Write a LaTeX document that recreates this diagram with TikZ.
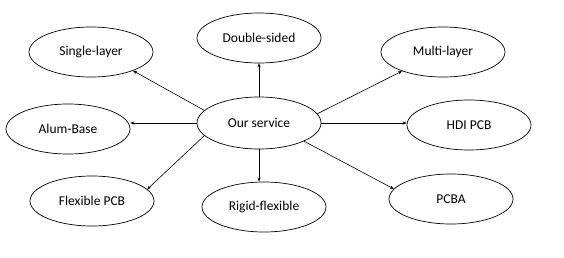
\documentclass[tikz,border=0pt]{standalone}
\usepackage{fontspec}
\setmainfont{Carlito}
\usetikzlibrary{arrows.meta,shapes.geometric}
\begin{document}
\begin{tikzpicture}[x=1pt,y=-1pt,
  oval/.style={draw, ellipse, minimum width=124pt, minimum height=50pt, inner sep=0pt, line width=0.7pt, font=\fontsize{13.5}{15}\selectfont},
  link/.style={-{Stealth[length=4pt,width=3.2pt]}, line width=0.6pt}]
\useasboundingbox (0,0) rectangle (564,257);
\node[oval] (single) at (91,52) {Single-layer};
\node[oval] (double) at (259,38) {Double-sided};
\node[oval] (multi) at (443,52) {Multi-layer};
\node[oval] (alum) at (68,129) {Alum-Base};
\node[oval, minimum height=52pt] (our) at (259,123) {Our service};
\node[oval] (hdi) at (469,125) {HDI PCB};
\node[oval] (flex) at (92,201) {Flexible PCB};
\node[oval] (rigid) at (264,207) {Rigid-flexible};
\node[oval] (pcba) at (451,199) {PCBA};
\draw[link] (our.167.6) -- (single.336.5);
\draw[link] (our.north) -- (double.south);
\draw[link] (our.9.8) -- (multi.205);
\draw[link] (our.west) -- (alum.east |- our.west);
\draw[link] (our.east) -- (hdi.west |- our.east);
\draw[link] (our.193.8) -- (flex.12.1);
\draw[link] (our.south) -- (our.south |- rigid.north);
\draw[link] (our.338.2) -- (pcba.170);
\end{tikzpicture}
\end{document}
